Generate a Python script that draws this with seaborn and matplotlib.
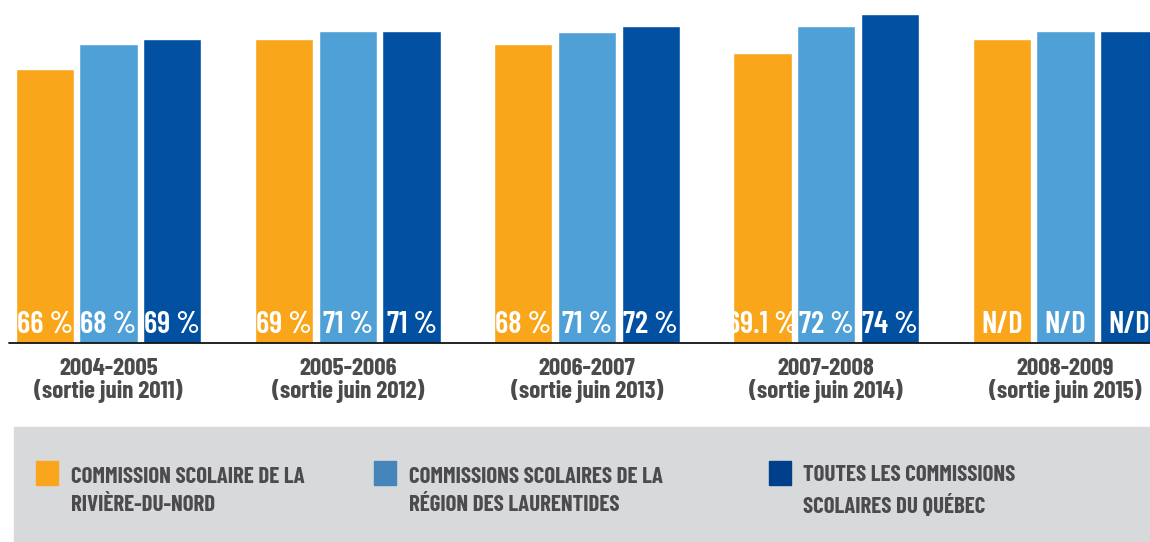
import matplotlib
matplotlib.use('Agg')
import matplotlib.pyplot as plt
import seaborn as sns
import pandas as pd
from matplotlib.patches import Rectangle

# ── Données ───────────────────────────────────────────────────
cohortes = ['2004-2005\n(sortie juin 2011)',
            '2005-2006\n(sortie juin 2012)',
            '2006-2007\n(sortie juin 2013)',
            '2007-2008\n(sortie juin 2014)',
            '2008-2009\n(sortie juin 2015)']
series = ['COMMISSION SCOLAIRE DE LA\nRIVIÈRE-DU-NORD',
          'COMMISSIONS SCOLAIRES DE LA\nRÉGION DES LAURENTIDES',
          'TOUTES LES COMMISSIONS\nSCOLAIRES DU QUÉBEC']
# hauteur des barres telle que dessinée dans l'original (pas à l'échelle des %)
hauteur_rdn = [63.9, 70.9, 69.7, 67.6, 70.9]
hauteur_laur = [69.7, 72.8, 72.5, 73.9, 72.8]
hauteur_qc = [70.9, 72.8, 73.9, 76.7, 72.8]
etiq_rdn = ['66 %', '69 %', '68 %', '69.1 %', 'N/D']
etiq_laur = ['68 %', '71 %', '71 %', '72 %', 'N/D']
etiq_qc = ['69 %', '71 %', '72 %', '74 %', 'N/D']

couleurs_barres = ['#f9a61b', '#50a0d8', '#0250a2']
couleurs_legende = ['#f9a61c', '#4585ba', '#003f8a']
GRIS_TEXTE = '#4b4b4d'

df = pd.DataFrame({
    'cohorte': cohortes * 3,
    'serie': [series[0]] * 5 + [series[1]] * 5 + [series[2]] * 5,
    'hauteur': hauteur_rdn + hauteur_laur + hauteur_qc,
})
etiquettes = [etiq_rdn, etiq_laur, etiq_qc]

# ── Figure ────────────────────────────────────────────────────
sns.set_style('white')
POLICE = ['Barlow Condensed', 'Roboto Condensed', 'DejaVu Sans']
plt.rcParams['font.family'] = POLICE
plt.rcParams['font.stretch'] = 'condensed'

W, H = 1150, 542
fig = plt.figure(figsize=(W / 100, H / 100), dpi=100)
ax = fig.add_axes([0, (H - 343) / H, 1, 343 / H])

sns.barplot(data=df, x='cohorte', y='hauteur', hue='serie',
            palette=couleurs_barres, width=0.8, gap=0.087,
            legend=False, ax=ax, errorbar=None, saturation=1)

ax.set_xlim((0 - 108.5) / 239.25, (W - 108.5) / 239.25)
ax.set_ylim(0, 80)
ax.axis('off')
ax.axhline(0, xmin=9 / W, xmax=1, color='#111111', linewidth=1.3, clip_on=False)

# étiquettes de valeur en bas des barres
for cont, labs in zip(ax.containers, etiquettes):
    for patch, lab in zip(cont.patches, labs):
        t = ax.text(patch.get_x() + patch.get_width() / 2, 2.35, lab,
                    ha='center', va='baseline', color='white', fontsize=22,
                    fontweight='semibold')
        t.set_clip_path(patch)

# cohortes sous l'axe
for i, c in enumerate(cohortes):
    ax.text(i, -8.8, c, ha='center', va='center', color=GRIS_TEXTE,
            fontsize=18, fontweight='bold', linespacing=0.95, clip_on=False)

# ── Légende ───────────────────────────────────────────────────
fig.patches.append(Rectangle((14 / W, 0), (W - 14) / W, (H - 427) / H,
                             transform=fig.transFigure, color='#d8d9db',
                             zorder=0))
for x_carre, x_txt, coul, nom in zip([36, 374, 769], [71, 409, 803],
                                     couleurs_legende, series):
    fig.patches.append(Rectangle((x_carre / W, (H - 485) / H), 22 / W, 24 / H,
                                 transform=fig.transFigure, color=coul,
                                 zorder=1))
    fig.text(x_txt / W, (H - 491) / H, nom, ha='left', va='center',
             color=GRIS_TEXTE, fontsize=16.5, fontweight='bold',
             linespacing=1.45)

fig.savefig('out.png', dpi=100)
